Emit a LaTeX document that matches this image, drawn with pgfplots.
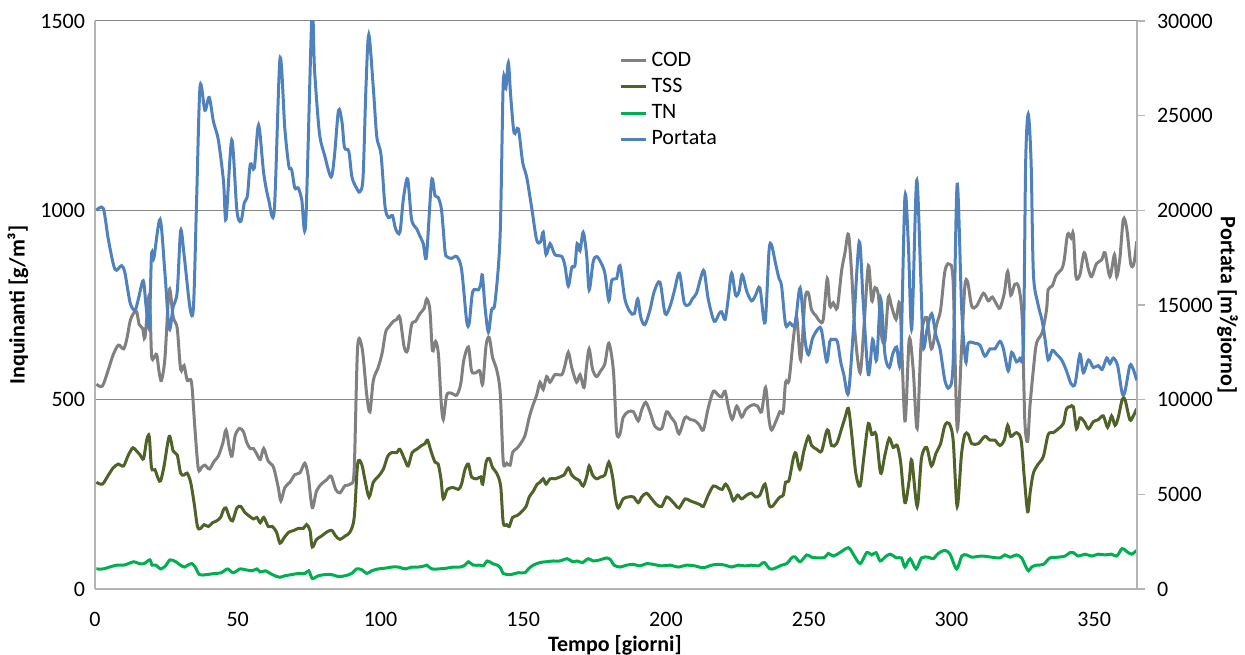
\documentclass[border=0pt]{standalone}
\usepackage{fontspec}
\setmainfont{Carlito}
\usepackage{pgfplots}
\usepackage{pgfplotstable}
\pgfplotsset{compat=1.18}

\definecolor{codgray}{RGB}{128,128,128}
\definecolor{tssolive}{RGB}{79,98,40}
\definecolor{tngreen}{RGB}{0,176,80}
\definecolor{qblue}{RGB}{79,129,189}
\definecolor{gridgray}{RGB}{134,134,134}
\definecolor{axisgray}{RGB}{180,180,180}

% COD [g/m3]
\pgfplotstableread{
d v
0.5 541
2.6 536
4.7 580
6.4 619
8.2 644
10 634
11.1 659
12.3 707
13.4 727
14.6 732
15.5 698
16.7 688
17.5 664
19 776
19.8 619
20.6 610
21.6 619
22.5 571
23.3 551
24.5 610
26 790
27.4 718
28.8 688
30 580
31.2 590
32.3 551
33.8 546
35 424
36.2 317
37.4 322
38.5 327
40.1 317
41.7 337
43.2 351
44.8 386
45.9 420
47.1 371
48 351
49.1 405
50.6 424
52 415
53.2 386
54.4 371
55.5 371
56.7 356
57.9 342
59.1 371
60.7 337
62.5 322
64.2 268
65.1 233
66.5 268
68.3 282
70 302
71.8 307
73.5 332
74.7 298
76.1 215
77.6 259
79.4 278
81.1 288
82.7 298
84.3 263
85.8 254
87.6 273
89.7 278
90.8 317
92 639
93.6 634
95.2 512
96.3 468
97.5 551
99.2 585
100.6 624
101.8 678
103 693
104.5 707
105.7 712
106.8 717
108.3 639
109.5 630
110.9 698
112.3 707
113.8 727
115.3 741
116.2 766
117.3 737
118.2 630
119.3 654
120.3 620
121.2 500
122 448
123.2 512
124.9 517
126.7 512
128.1 541
129.2 605
130.8 639
131.9 576
133.4 571
134.8 576
135.8 541
137 644
138.1 664
139.3 610
140.5 585
141.9 522
143 337
144.2 332
145.4 327
146.3 361
147.7 371
148.8 381
150.6 405
152.1 453
153.3 483
154.7 512
155.9 546
157 527
158.2 561
159.4 546
161.1 566
163.5 566
164.6 590
165.8 625
167 585
168.7 546
169.9 566
171.3 532
172.2 590
173.1 634
174.3 580
175.7 561
177.1 576
178.6 595
180 649
181.6 576
182.7 415
183.9 410
185 453
186.8 468
188.6 468
190.3 444
191.5 473
192.9 493
194.4 468
196.2 429
198.5 424
200.2 468
201.8 453
203.2 439
204.6 410
206.7 453
208.4 448
210.2 444
211.6 434
213.1 420
214.8 478
216.6 522
218.3 512
219.5 507
220.7 522
221.8 483
223.2 448
224.8 483
226.5 454
227.9 473
229.4 483
230.9 487
232.1 483
233.5 468
234.9 532
236.1 448
237 420
238.8 448
239.9 468
241.1 468
241.9 546
243.1 551
244.6 659
245.8 717
247.2 605
248.7 766
249.9 781
251 737
252.5 722
253.9 707
255.1 712
256.5 820
257.4 747
258.6 756
260 742
261.5 839
262.7 888
263.9 937
265 839
266.2 678
268 571
269.4 698
270.9 854
272.1 761
273.2 796
274.4 776
275.5 669
276.7 654
277.9 771
279 747
280.6 712
282 747
283.7 444
285.2 659
286.6 580
288 424
289.5 669
291.3 717
293 634
294.8 698
296.2 737
297.7 839
299.2 858
300.6 810
302 424
303.5 629
304.7 800
305.7 810
307.1 747
308.8 747
311.2 781
312.9 761
314.3 771
315.8 752
317 742
318.5 781
319.7 839
320.8 776
322.2 805
323.6 796
324.8 713
325.7 444
326.7 390
327.5 483
328.7 580
329.8 649
331.8 678
333.3 737
333.9 791
335.3 800
336.8 830
338.6 844
339.5 869
340.7 937
341.9 927
342.7 937
343.6 825
345 830
346.5 888
348 844
349.1 825
350.8 859
352.6 869
353.8 888
355.5 825
357.1 883
357.9 825
359 873
360.2 976
361.4 952
362.8 859
363.9 859
364.9 918
}\codtable

% TSS [g/m3]
\pgfplotstableread{
d v
0.5 282
2.6 277
4.7 301
6.4 320
8.2 330
10 325
11.7 354
13.3 373
14.6 364
15.8 354
17 344
18.1 393
19 403
19.8 320
21 315
22.2 290
23 286
24.2 325
26 403
27.4 364
28.8 354
30 306
31.2 301
32.3 306
33.5 282
34.7 228
35.9 165
37 160
38.2 170
39.7 165
41.2 175
42.6 180
44 189
45 209
45.9 214
47.1 189
48.2 180
49.7 214
51.1 218
52.3 204
53.8 194
55.5 185
56.7 189
57.9 175
59.1 189
60.7 165
62.1 165
63.6 150
64.8 121
66.3 136
67.9 150
69.8 155
71.2 160
73 160
74.1 170
75.3 155
76.1 111
77.6 131
79.4 140
81.1 150
82.9 155
84.3 140
85.8 131
87.6 140
89.3 150
90.8 189
92 330
93.4 330
94.6 287
96 243
97.5 282
99.2 297
101 316
102.5 350
103.9 360
105.7 360
106.8 369
108.6 340
109.7 325
111.1 360
112.7 369
114.4 379
115.6 384
116.5 393
117.7 364
119.1 335
120.2 330
121.2 290
122 238
123.4 263
125.5 268
127.3 263
128.4 277
129.6 316
130.8 330
131.9 296
133.7 291
135.1 296
135.8 277
137 335
138.1 345
139.3 320
140.7 306
142.1 272
143 175
144.2 170
145.1 165
146.3 189
147.9 194
149.4 204
151 218
152.1 243
153.5 258
154.9 277
155.9 282
157 291
158 277
159.4 291
161.1 291
162.9 296
164.3 301
165.8 320
167 301
168.5 291
169.6 287
171 272
172.2 296
173.1 325
174.3 301
175.7 291
177.1 296
178.6 301
180 335
181.3 296
182.3 240
183.3 214
185 238
186.8 243
188.6 243
190.3 228
191.5 243
193.2 253
195 238
196.7 223
198.5 218
200.2 243
202 233
203.2 223
204.6 214
206.7 238
208.4 233
210.2 228
211.9 223
213.1 218
214.8 248
216.6 272
218.3 267
219.7 263
220.9 277
222.4 258
223.6 233
225.1 248
226.5 238
228.3 248
230 253
231.4 243
232.9 248
234.7 277
236.1 223
237.2 218
238.8 233
239.9 243
241.1 248
241.9 282
243.1 287
244.6 345
245.5 359
246.9 316
248.3 364
249.9 403
251 379
252.8 369
254.5 364
256.1 413
256.9 418
258 379
259.8 384
261.5 423
262.7 452
263.9 477
265 413
266.5 306
268 272
269.4 354
270.9 437
272.1 408
273.6 408
275.2 306
276.7 354
278.2 398
279.6 374
281 379
282.2 335
283.7 228
285.2 287
286.1 340
288 218
289.5 345
291.3 374
293 325
294.6 359
296.2 384
297.7 432
299.2 437
300.6 393
302 218
303.5 354
304.7 408
305.9 408
307.1 384
309.4 384
311.7 403
313.5 393
315.2 393
317 379
318.5 393
319.7 432
320.8 403
322.8 413
324.4 393
325.5 296
326.7 204
327.6 257
328.7 306
330.4 330
332.2 350
333.9 408
335.7 413
337.4 423
339.2 437
340.3 476
341.5 481
342.7 481
343.8 423
345 452
346.5 442
348 423
349.7 442
351.4 447
353.2 457
354.7 427
356.1 457
357.3 432
358.4 452
359.8 500
360.8 500
362.5 447
363.7 457
364.9 476
}\tsstable

% TN [g/m3]
\pgfplotstableread{
d v
0.5 53
2.9 53
5.1 58
7.6 63
10 63
11.7 67
13.6 72
15.5 67
17.2 67
19.2 77
20 63
21.3 63
23.1 53
24.9 63
26.3 77
28.3 72
29.9 63
31.3 58
32.5 63
33.9 67
35.1 58
36.6 38
39 38
41.9 41
44.3 43
46.4 53
48.4 43
50.8 53
52.6 51
55 48
56.7 53
57.9 45
59.7 48
61.4 41
63.6 33
64.8 31
66.5 35
68.9 38
71.2 41
73.5 41
74.9 48
76.1 28
78.2 35
80.6 38
82.9 38
85.2 33
87.6 35
89.9 41
91.6 53
93.4 51
95.2 41
96.9 48
99.2 53
101.6 55
104 58
106.3 58
108.6 53
111 58
113.3 58
115.4 61
116.2 63
118 53
120.3 53
123.2 55
125.5 58
127.9 58
129.6 63
130.8 72
132.5 63
134.8 63
136 61
137.4 74
139.3 67
140.9 63
142.1 55
143 41
145.4 38
148.3 43
150.6 43
151.8 53
153.5 63
155.9 70
158.2 72
160.5 74
162.9 74
165.4 80
167.3 72
168.9 74
170.8 70
172.8 80
174.5 74
176.9 77
179.2 82
180.6 77
181.8 63
183.9 58
186.2 63
188.6 65
190.9 61
193.2 67
195.6 65
198.5 61
201.4 63
204.3 58
207.2 63
210.2 61
213.1 56
216 63
218.3 65
220.7 63
223 58
225.3 63
227.7 61
230 63
232.4 61
234.4 70
236.4 53
238.2 55
240.5 63
242.3 67
244 82
245.2 85
247 72
249.3 90
251 84
254 82
255.7 84
256.9 94
258.6 87
260.9 96
263.9 109
265.6 92
268 67
270.3 96
272.1 90
273.6 96
275 74
276.7 84
278.5 92
280.8 82
282.5 82
283.7 58
285.5 80
287.6 53
289.5 82
291.9 84
293.6 80
295.4 94
297.7 102
299.5 92
301.8 53
303.6 87
305.3 90
307.1 84
310.6 87
314.1 84
317 82
318.7 90
320.5 84
322.8 90
324.6 82
325.8 63
327 48
328.1 58
329.8 63
332.2 65
334.5 82
337.4 84
339.8 87
341.5 96
342.7 96
344.4 87
346.8 92
349.1 87
351.4 92
353.8 90
356.1 92
357.9 87
359.8 107
361.4 99
363.1 92
364.9 102
}\tntable

% Portata [m3/giorno]
\pgfplotstableread{
d q
0.5 20000
2.9 20100
4.7 18440
7 16880
9.3 17080
10.5 16680
12.3 15120
14 14720
15.2 15320
16.9 16280
17.9 14920
19 13840
19.8 17660
20.6 17460
22.8 19520
24.5 16680
26 13740
27.4 14920
28.8 15700
30 18920
31.2 17660
33.3 14820
34.5 14920
35.6 20580
36.8 26540
38.5 25280
40 25960
41.5 24680
43.2 23720
45 21560
45.9 19520
47.9 23720
49.7 20000
51.1 19420
52.3 20400
53.4 20780
54.4 22440
55.8 22240
57.3 24500
59.1 21960
60.8 20580
62.8 20000
64.8 28000
66.5 24300
67.9 22340
68.9 22140
70 21180
71.2 21180
72.4 20580
73.8 19320
76 30400
76.9 27420
78.6 24100
80.4 22920
82.7 21760
83.9 22920
85.3 25280
86.5 24680
87.4 23320
88.9 23120
90 21760
91.6 21180
92.8 20980
93.9 21760
94.9 26440
95.9 29280
97.5 26440
98.7 23900
100.2 22920
101.6 20200
102.8 19620
104.2 19720
105.3 19020
106.8 18840
108 20580
109.5 21660
110.9 19520
112.7 19020
113.8 18640
115 18240
116.1 17560
117.9 21560
119.1 20780
120.2 20680
121.4 20000
122.6 17860
123.2 17560
124.9 17460
126.7 17560
128.4 16880
130.2 14140
131.1 14060
132.3 15700
134.3 15800
135.1 16100
135.7 16580
136.6 14920
137.8 13560
138.9 14740
140.1 15120
141.9 18640
143 26740
143.9 26440
144.8 27800
145.6 26060
146.8 24100
148.3 24300
149.8 22540
151.2 21760
152.9 20200
154.7 18440
156.1 18340
157 18840
158 17660
159.4 18240
161.1 17660
163.5 17560
164.6 17080
165.8 16000
167 16980
168.1 17080
168.9 18240
169.9 17860
171 18840
172.2 17660
173.1 15800
174.5 17280
175.7 17560
177.1 17280
178.6 16680
180 15220
181 16300
182.7 16400
183.9 17080
185.6 15320
187.4 14640
188.9 14540
190.1 15320
191.2 14340
192.6 13960
194.4 14740
195.9 15720
197.9 16200
199.7 14540
201.4 14920
202.9 15720
204.7 16680
206.4 15120
208.1 15020
209.2 15320
210.7 15620
212.3 16500
213.4 16780
214.8 15320
216.9 14140
218.6 14540
219.5 14640
220.7 14240
221.8 15320
223 16680
224.4 15520
225.6 15720
226.7 16600
228.3 15720
230 15220
231.4 15520
232.9 15900
234.7 14060
236.1 17860
237 18160
238.4 17180
239.6 16400
240.5 16000
241.9 13960
243.4 14060
245.2 13960
247 15900
248.7 13160
249.9 12380
251.4 13260
253.4 13760
254.5 13660
256.3 12000
257.4 13080
258.4 13180
260 13080
261.2 12000
262.3 11320
263.9 10340
265.6 13560
267.7 18340
269.1 15120
270.9 11320
272.4 13180
273.8 12100
275.2 15320
276.7 12400
278.2 11700
279.4 12400
280.8 12780
282.2 12100
283.7 20680
284.9 18240
286.1 13760
287.8 21560
289.2 16680
290.1 12780
291.5 13760
293.1 14540
294.6 13380
296 12680
297.7 11020
299.2 10640
300.6 12000
302 21380
303.6 14740
305 12000
305.9 12980
308.2 12980
310 12880
311.7 12300
313.5 12680
315.2 12680
317 13080
318.2 12680
319.9 11520
321.1 12500
322.8 12000
324 12200
325.2 12780
326 22540
326.9 25080
327.9 22540
328.7 16680
330.2 15120
331.8 14140
332.8 13180
333.9 12100
335.3 12600
336.8 12400
338.6 12100
340.3 11520
341.9 10840
343.3 10840
345 12400
346.2 11420
348 12100
349.7 11700
351.4 11800
352.8 11600
354.4 12200
355.5 11900
356.7 12200
358.2 11800
359.8 10340
360.8 10440
362.5 11800
363.7 11600
364.9 11020
}\qtable

\pgfplotsset{
  twoscales/.style={
    width=521bp, height=284bp, scale only axis,
    xmin=0, xmax=365,
    /pgf/number format/assume math mode=true,
    /pgf/number format/set thousands separator={},
    tick label style={font=\fontsize{11bp}{13bp}\selectfont, text=black},
    label style={font=\bfseries\fontsize{11bp}{13bp}\selectfont},
    axis line style={axisgray, line width=0.75bp, -},
    every axis plot/.append style={line width=1.5bp, smooth, no markers},
  },
}

\begin{document}
\begin{tikzpicture}
% left scale: pollutant concentrations
\begin{axis}[twoscales,
  axis x line*=bottom, axis y line*=left,
  ymin=0, ymax=1500, ytick={0,500,1000,1500},
  xtick={0,50,...,350},
  major tick length=0pt,
  ymajorgrids, major grid style={gridgray, line width=0.5bp},
  xticklabel style={yshift=-8bp},
  yticklabel style={xshift=-1.5bp},
  xlabel={Tempo [giorni]},
  xlabel style={at={(axis description cs:0.499,-0.099)}, anchor=center},
  ylabel={Inquinanti [g/m³]},
  ylabel style={at={(axis description cs:-0.074,0.5)}, anchor=center},
]
\addplot[codgray] table[x=d, y=v] {\codtable};
\addplot[tssolive] table[x=d, y=v] {\tsstable};
\addplot[tngreen] table[x=d, y=v] {\tntable};
\end{axis}

% right scale: flow rate
\begin{axis}[twoscales,
  axis y line*=right, axis x line=none,
  ymin=0, ymax=30000, ytick={0,5000,...,30000},
  scaled y ticks=false,
  tick align=outside, major tick length=4bp,
  tick style={axisgray, line width=0.75bp},
  yticklabel style={xshift=2.5bp},
  ylabel={Portata [m³/giorno]},
  ylabel style={at={(axis description cs:1.087,0.5)}, anchor=center, rotate=180},
  legend style={draw=none, fill=none, at={(axis description cs:0.503,0.953)},
    anchor=north west, font=\fontsize{11bp}{13bp}\selectfont,
    row sep=0.5bp, inner sep=0pt},
  legend cell align=left,
  legend image code/.code={\draw[#1] (0bp,0bp) -- (12.5bp,0bp);},
]
\addlegendimage{codgray, line width=1.5bp}
\addlegendentry{COD}
\addlegendimage{tssolive, line width=1.5bp}
\addlegendentry{TSS}
\addlegendimage{tngreen, line width=1.5bp}
\addlegendentry{TN}
\addplot[qblue] table[x=d, y=q] {\qtable};
\addlegendentry{Portata}
\end{axis}

\pgfresetboundingbox
\path[use as bounding box] (-47.5bp,-33bp) rectangle (575bp,294.5bp);
\end{tikzpicture}
\end{document}
